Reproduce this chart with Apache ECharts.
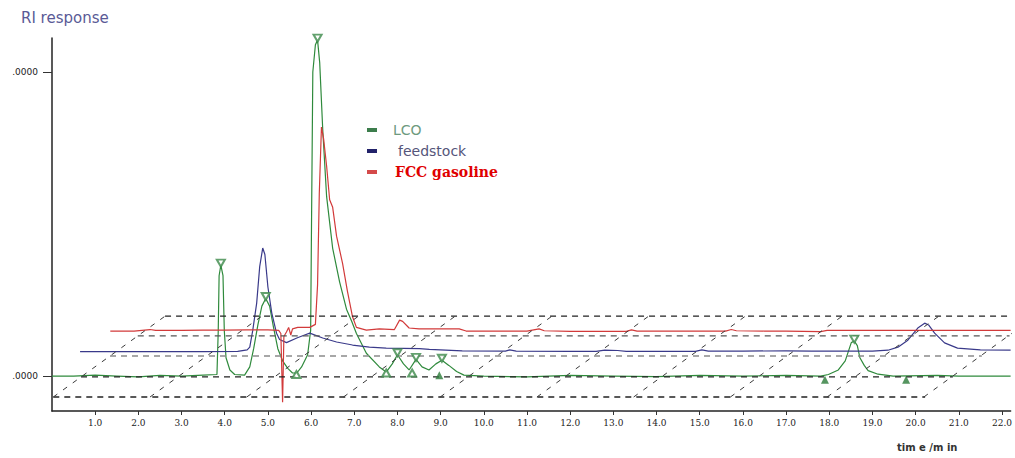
<!DOCTYPE html>
<html>
<head>
<meta charset="utf-8">
<title>RI response chromatogram</title>
<script src="https://cdn.jsdelivr.net/npm/echarts@6/dist/echarts.min.js"></script>
<style>
  html, body { margin: 0; padding: 0; background: #fff; }
  #chart { width: 1015px; height: 458px; }
</style>
</head>
<body>
<div id="chart"></div>
<script>
// Retention time (min) and RI response pairs for each sample trace.
const lcoTrace = [
  [0.0, 0.0], [0.5, 0.0], [1.0, 0.003], [1.5, 0.0], [2.0, -0.003], [2.5, 0.002], [3.0, 0.0], [3.5, 0.003],
  [3.82, 0.005], [3.85, 0.15], [3.87, 0.33], [3.91, 0.365], [3.96, 0.33], [3.99, 0.15], [4.03, 0.06],
  [4.12, 0.02], [4.23, 0.005], [4.46, 0.003], [4.58, 0.03], [4.67, 0.09], [4.77, 0.17], [4.86, 0.23],
  [4.95, 0.255], [5.04, 0.23], [5.13, 0.16], [5.23, 0.09], [5.34, 0.05], [5.46, 0.025], [5.57, 0.01],
  [5.67, 0.01], [5.78, 0.03], [5.92, 0.07], [5.99, 0.15], [6.01, 0.5], [6.04, 1.0], [6.10, 1.09],
  [6.15, 1.105], [6.20, 1.03], [6.27, 0.81], [6.36, 0.59], [6.50, 0.42], [6.66, 0.31], [6.82, 0.22],
  [6.94, 0.18], [7.05, 0.14], [7.28, 0.075], [7.58, 0.03], [7.74, 0.013], [7.88, 0.04], [8.0, 0.07],
  [8.14, 0.04], [8.27, 0.02], [8.43, 0.055], [8.57, 0.03], [8.73, 0.02], [8.89, 0.04], [9.03, 0.052],
  [9.19, 0.035], [9.37, 0.015], [9.54, 0.003], [10.0, 0.0], [11.0, -0.003], [12.0, 0.002], [13.0, 0.0],
  [14.0, -0.002], [15.0, 0.002], [16.0, 0.0], [17.0, 0.002], [17.8, 0.0], [17.98, 0.005], [18.21, 0.02],
  [18.37, 0.05], [18.51, 0.11], [18.58, 0.115], [18.65, 0.10], [18.71, 0.06], [18.81, 0.035],
  [18.90, 0.018], [19.13, 0.006], [19.48, 0.0], [20.5, 0.002], [21.0, 0.0], [22.2, 0.0]
];

const feedstockTrace = [
  [0.65, 0.08], [1.5, 0.08], [2.5, 0.08], [3.5, 0.08], [4.3, 0.081], [4.52, 0.086], [4.58, 0.095],
  [4.65, 0.151], [4.74, 0.24], [4.81, 0.36], [4.88, 0.421], [4.93, 0.40], [5.0, 0.293], [5.09, 0.207],
  [5.20, 0.141], [5.27, 0.12], [5.43, 0.11], [5.67, 0.125], [5.85, 0.135], [5.97, 0.141], [6.27, 0.125],
  [6.59, 0.112], [6.96, 0.102], [7.35, 0.095], [7.74, 0.092], [8.51, 0.09], [8.74, 0.088], [9.5, 0.083],
  [10.5, 0.082], [10.6, 0.086], [10.75, 0.082], [12.0, 0.081], [12.6, 0.081], [12.8, 0.085],
  [13.1, 0.084], [13.3, 0.081], [14.0, 0.081], [14.9, 0.081], [15.05, 0.086], [15.2, 0.082],
  [16.0, 0.082], [17.0, 0.083], [17.6, 0.082], [18.0, 0.082], [19.0, 0.082], [19.36, 0.085],
  [19.59, 0.095], [19.82, 0.118], [20.05, 0.158], [20.21, 0.174], [20.30, 0.168], [20.44, 0.141],
  [20.67, 0.109], [20.97, 0.092], [21.5, 0.086], [22.2, 0.085]
];

const gasolineTrace = [
  [1.35, 0.148], [1.9, 0.148], [2.27, 0.153], [2.4, 0.15], [3.0, 0.15], [3.5, 0.151], [4.0, 0.151],
  [4.5, 0.152], [5.0, 0.152], [5.25, 0.15], [5.30, 0.14], [5.34, -0.086], [5.37, 0.13], [5.43, 0.145],
  [5.48, 0.16], [5.53, 0.135], [5.57, 0.155], [5.69, 0.16], [5.97, 0.16], [6.10, 0.17], [6.15, 0.3],
  [6.19, 0.6], [6.24, 0.819], [6.29, 0.78], [6.36, 0.69], [6.43, 0.58], [6.50, 0.555], [6.59, 0.46],
  [6.73, 0.37], [6.84, 0.28], [6.96, 0.195], [7.05, 0.16], [7.28, 0.151], [7.58, 0.155], [7.93, 0.153],
  [8.05, 0.184], [8.12, 0.18], [8.27, 0.158], [8.5, 0.155], [9.43, 0.155], [9.59, 0.148], [10.5, 0.148],
  [11.0, 0.148], [11.28, 0.155], [11.4, 0.149], [12.0, 0.147], [13.3, 0.147], [13.42, 0.152],
  [13.55, 0.148], [14.5, 0.148], [15.6, 0.148], [15.73, 0.153], [15.85, 0.149], [16.5, 0.148],
  [17.0, 0.148], [17.8, 0.146], [17.95, 0.15], [19.0, 0.15], [20.0, 0.15], [21.0, 0.15], [22.2, 0.15]
];

// Integration marks on the LCO trace: peak apexes and peak start/end points.
const lcoPeakApex = [[3.91, 0.365], [4.95, 0.255], [6.15, 1.105], [8.0, 0.07], [8.43, 0.055], [9.03, 0.052], [18.58, 0.115]];
const lcoPeakBounds = [[5.66, 0.005], [7.74, 0.01], [8.34, 0.01]];
const lcoPeakBoundsFilled = [[8.97, 0.003], [17.9, -0.012], [19.78, -0.012]];

// Perspective floor: the response levels of its rails and the times where its rungs start.
const floorLevels = [-0.069, -0.003, 0.066, 0.132, 0.197];
const floorRungStarts = [0.03, 2.27, 4.51, 6.75, 8.99, 11.23, 13.47, 15.71, 17.95, 20.19];
const floorSlant = 9.73;          // minutes of drift per response unit along a rung
const floorEnd = 20.22;           // time where the front rail ends

const xTickValues = [1, 2, 3, 4, 5, 6, 7, 8, 9, 10, 11, 12, 13, 14, 15, 16, 17, 18, 19, 20, 21, 22];
const yTickValues = [0, 1];

const X_MIN = 0, X_MAX = 22.2, Y_MIN = -0.115, Y_MAX = 1.112;

const floorBottom = floorLevels[0];
const railColors = ['#222', '#222', '#8a8a8a', '#555', '#222'];

const floorSeries = [];
floorLevels.forEach(function (lv, i) {
  const shift = (lv - floorBottom) * floorSlant;
  floorSeries.push({
    type: 'line', silent: true, showSymbol: false, z: 5,
    data: [[floorRungStarts[0] + shift, lv], [floorEnd + shift, lv]],
    lineStyle: { color: railColors[i], width: 1.3, type: [6, 5] }
  });
});
floorRungStarts.forEach(function (t0) {
  const top = floorLevels[floorLevels.length - 1];
  floorSeries.push({
    type: 'line', silent: true, showSymbol: false, z: 5,
    data: [[t0, floorBottom], [t0 + (top - floorBottom) * floorSlant, top]],
    lineStyle: { color: '#3a3a3a', width: 1, type: [5, 7] }
  });
});

function trace(name, data, color) {
  return {
    name: name, type: 'line', data: data, showSymbol: false, z: 3,
    lineStyle: { color: color, width: 1.2 }, itemStyle: { color: color }
  };
}

const chart = echarts.init(document.getElementById('chart'), null, { renderer: 'svg' });
chart.setOption({
  animation: false,
  backgroundColor: '#fff',
  grid: { left: 52, right: 2, top: 38, bottom: 47, containLabel: false },
  xAxis: {
    type: 'value', min: X_MIN, max: X_MAX,
    axisLine: { show: true, onZero: false, lineStyle: { color: '#222', width: 1.5 } },
    axisTick: { show: true, length: 4, customValues: xTickValues, lineStyle: { color: '#333' } },
    axisLabel: {
      customValues: xTickValues, margin: 7, color: '#222',
      fontFamily: 'DejaVu Serif', fontSize: 9,
      formatter: function (v) { return v.toFixed(1); }
    },
    splitLine: { show: false }
  },
  yAxis: {
    type: 'value', min: Y_MIN, max: Y_MAX,
    axisLine: { show: true, onZero: false, lineStyle: { color: '#222', width: 1.5 } },
    axisTick: { show: true, length: 9, customValues: yTickValues, lineStyle: { color: '#333' } },
    axisLabel: {
      customValues: yTickValues, margin: 14, color: '#222',
      fontFamily: 'DejaVu Sans', fontSize: 9,
      formatter: function () { return '.0000'; }
    },
    splitLine: { show: false }
  },
  legend: {
    orient: 'vertical', left: 362, top: 118, icon: 'rect',
    itemWidth: 10, itemHeight: 4, itemGap: 7, selectedMode: false,
    data: [
      { name: 'LCO', itemStyle: { color: '#3c7d4c' },
        textStyle: { color: '#6e9a7e', fontFamily: 'DejaVu Sans', fontSize: 14, padding: [0, 0, 0, 11] } },
      { name: 'feedstock', itemStyle: { color: '#22226a' },
        textStyle: { color: '#55557a', fontFamily: 'DejaVu Sans', fontSize: 14, padding: [0, 0, 0, 16] } },
      { name: 'FCC gasoline', itemStyle: { color: '#d44a4a' },
        textStyle: { color: '#e00000', fontFamily: 'DejaVu Serif', fontWeight: 'bold', fontSize: 14, padding: [1, 0, 0, 13] } }
    ]
  },
  graphic: [
    { type: 'text', left: 21, top: 10,
      style: { text: 'RI response', fill: '#5a5a96', font: '15px "DejaVu Sans"' } },
    { type: 'text', left: 897, top: 442,
      style: { text: 'tim e /m in', fill: '#333', font: 'bold 10px "DejaVu Sans"' } }
  ],
  series: [
    trace('LCO', lcoTrace, '#2f8a3c'),
    trace('feedstock', feedstockTrace, '#3a3a8a'),
    trace('FCC gasoline', gasolineTrace, '#d23a3a'),
    { type: 'scatter', data: lcoPeakApex, symbol: 'emptyTriangle', symbolRotate: 180,
      symbolSize: [8, 7], symbolOffset: [0, -2], z: 6, silent: true,
      itemStyle: { color: '#3c8a4a', borderWidth: 1 } },
    { type: 'scatter', data: lcoPeakBounds, symbol: 'emptyTriangle',
      symbolSize: [8, 7], z: 6, silent: true, itemStyle: { color: '#3c8a4a', borderWidth: 1 } },
    { type: 'scatter', data: lcoPeakBoundsFilled, symbol: 'triangle',
      symbolSize: [8, 8], z: 6, silent: true, itemStyle: { color: '#2a7a38' } }
  ].concat(floorSeries)
});
</script>
</body>
</html>
